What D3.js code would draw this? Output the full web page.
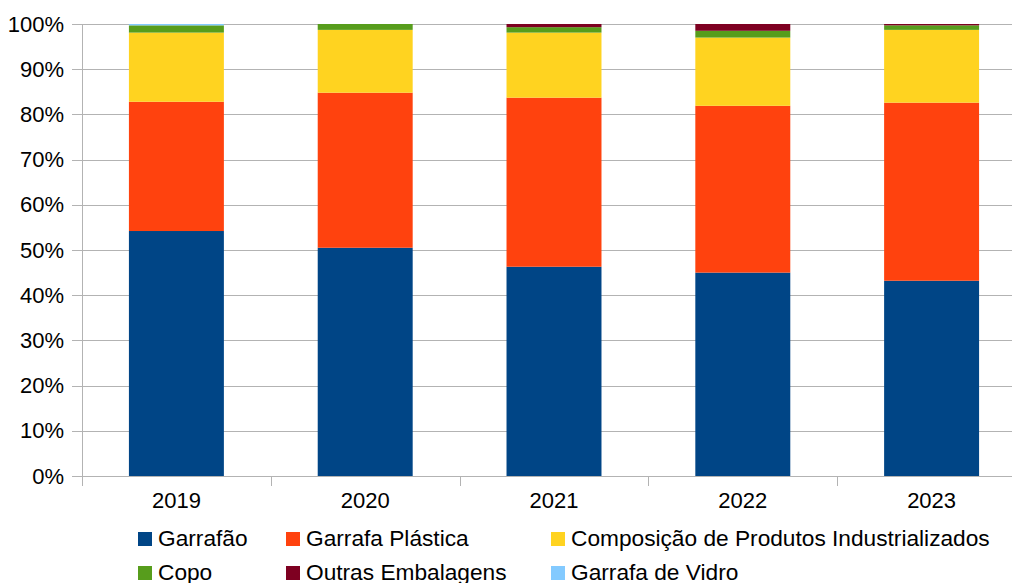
<!DOCTYPE html>
<html><head><meta charset="utf-8">
<script src="https://cdn.jsdelivr.net/npm/d3@7"></script>
<style>html,body{margin:0;padding:0;background:#fff;overflow:hidden}</style>
</head><body><svg id="c" width="1012" height="583"></svg>
<script>
const years = ["2019","2020","2021","2022","2023"];
const seriesNames = ["Garrafão","Garrafa Plástica","Composição de Produtos Industrializados","Copo","Outras Embalagens","Garrafa de Vidro"];
const garrafao = [54.2, 50.5, 46.3, 45.0, 43.2];
const garrafaPlastica = [28.6, 34.3, 37.4, 36.9, 39.4];
const composicao = [15.3, 13.9, 14.4, 15.1, 16.1];
const copo = [1.6, 1.3, 1.2, 1.5, 1.0];
const outras = [0, 0, 0.7, 1.5, 0.3];
const vidro = [0.3, 0, 0, 0, 0];
const yTicks = [0,0.1,0.2,0.3,0.4,0.5,0.6,0.7,0.8,0.9,1.0];
const colors = ["#004586","#ff420e","#ffd320","#579d1c","#7e0021","#83caff"];

(function(){
const seriesVals = [garrafao, garrafaPlastica, composicao, copo, outras, vidro];
const rows = years.map((yr,i)=>{const r={year:yr}; seriesNames.forEach((s,j)=>r[s]=seriesVals[j][i]); return r;});
const stack = d3.stack().keys(seriesNames).offset(d3.stackOffsetExpand)(rows);

const svg = d3.select("#c");
const pL=82, pR=1026, pT=24, pB=476;
const x = d3.scaleBand().domain(years).range([pL,pR]).paddingInner(0.497).paddingOuter(0.2485);
const y = d3.scaleLinear().domain([0,1]).range([pB,pT]);
const font = "Liberation Sans, Arial, sans-serif";

svg.append("g").selectAll("line").data(yTicks).join("line")
  .attr("x1",pL-10).attr("x2",pR).attr("y1",d=>Math.round(y(d))+0.5).attr("y2",d=>Math.round(y(d))+0.5)
  .attr("stroke","#b3b3b3").attr("stroke-width",1);

const yAxis = d3.axisLeft(y).tickValues(yTicks).tickFormat(d3.format(".0%")).tickSize(0).tickPadding(18);
const gy = svg.append("g").attr("transform",`translate(${pL},0)`).call(yAxis);
gy.select(".domain").remove();
gy.selectAll("text").attr("font-family",font).attr("font-size",22).attr("fill","#000");

svg.append("g").selectAll("g").data(stack).join("g").attr("fill",(d,i)=>colors[i])
  .selectAll("rect").data(d=>d).join("rect")
  .attr("x",d=>x(d.data.year)).attr("width",x.bandwidth())
  .attr("y",d=>y(d[1])).attr("height",d=>Math.max(0,y(d[0])-y(d[1])));

svg.append("line").attr("x1",pL+0.5).attr("x2",pL+0.5).attr("y1",pT).attr("y2",pB+10).attr("stroke","#b3b3b3");
svg.append("line").attr("x1",pL).attr("x2",pR).attr("y1",pB+0.5).attr("y2",pB+0.5).attr("stroke","#b3b3b3");
const step = x.step();
svg.append("g").selectAll("line").data(years.slice(1)).join("line")
  .attr("x1",d=>Math.round(x(d)-x.paddingInner()*step/2)+0.5).attr("x2",d=>Math.round(x(d)-x.paddingInner()*step/2)+0.5)
  .attr("y1",pB).attr("y2",pB+10).attr("stroke","#b3b3b3");

const xAxis = d3.axisBottom(x).tickSize(0).tickPadding(16);
const gx = svg.append("g").attr("transform",`translate(0,${pB})`).call(xAxis);
gx.select(".domain").remove();
gx.selectAll("text").attr("font-family",font).attr("font-size",22).attr("fill","#000");

const legX = [138, 286, 551];
const legY = [538, 572];
const lg = svg.append("g").selectAll("g").data(seriesNames).join("g")
  .attr("transform",(d,i)=>`translate(${legX[i%3]},${legY[Math.floor(i/3)]})`);
lg.append("rect").attr("x",0).attr("y",-6).attr("width",14).attr("height",14).attr("fill",(d,i)=>colors[i]);
lg.append("text").attr("x",20).attr("y",8).text(d=>d).attr("font-family",font).attr("font-size",22.7).attr("fill","#000");
})();
</script></body></html>
